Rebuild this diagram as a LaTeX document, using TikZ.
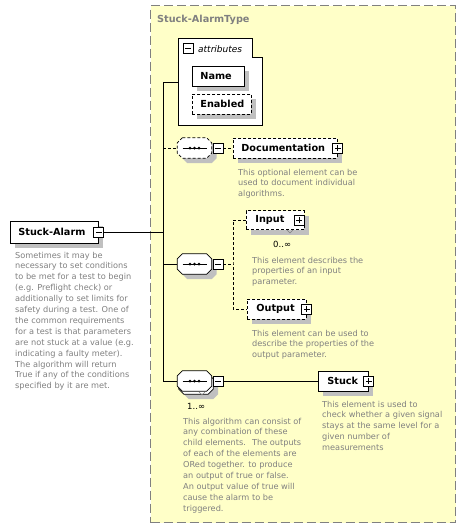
\documentclass[tikz,border=0pt]{standalone}
\usepackage{fontspec}
\setmainfont{DejaVu Sans}
\usetikzlibrary{shadows}
\definecolor{typefill}{RGB}{255,255,200}
\definecolor{typeborder}{RGB}{128,128,128}
\definecolor{desccol}{RGB}{128,128,128}
\definecolor{shadowgray}{RGB}{192,192,192}
\newcommand\elemfont{\fontsize{9.7}{11}\selectfont\bfseries}
\newcommand\descfont{\fontsize{8.2}{10.9}\selectfont}
\newcommand\occfont{\fontsize{8.5}{10}\selectfont}
\tikzset{
  conn/.style={line width=0.8pt, black},
  optconn/.style={conn, dash pattern=on 3pt off 2pt},
  shad/.style={drop shadow={shadow xshift=5pt, shadow yshift=-5pt, fill=shadowgray, opacity=1}},
  elem/.style={draw, fill=white, line width=0.8pt, font=\elemfont, anchor=west,
    inner xsep=8pt, inner ysep=0pt, align=left, minimum height=20pt, shad},
  optelem/.style={elem, dash pattern=on 3pt off 2pt},
  desc/.style={font=\descfont, text=desccol, anchor=base west, align=left, inner sep=0pt},
  occ/.style={font=\occfont, anchor=base west, inner sep=0pt},
  pmbox/.style={draw, solid, fill=white, line width=0.8pt, minimum size=10pt, inner sep=0pt},
  minusbox/.style={pmbox, path picture={\draw[line width=0.8pt, solid]
      ([xshift=2pt]path picture bounding box.west) -- ([xshift=-2pt]path picture bounding box.east);}},
  plusbox/.style={pmbox, path picture={\draw[line width=0.8pt, solid]
      ([xshift=2pt]path picture bounding box.west) -- ([xshift=-2pt]path picture bounding box.east)
      ([yshift=2pt]path picture bounding box.south) -- ([yshift=-2pt]path picture bounding box.north);}},
  seqbox/.style={rectangle, minimum width=34pt, minimum height=20pt, inner sep=0pt},
}
\newcommand\octpath[1]{([xshift=5pt]#1.north west) -- ([xshift=-5pt]#1.north east) -- ([yshift=-5pt]#1.north east) -- ([yshift=5pt]#1.south east) -- ([xshift=-5pt]#1.south east) -- ([xshift=5pt]#1.south west) -- ([yshift=5pt]#1.south west) -- ([yshift=-5pt]#1.north west) -- cycle}
\newcommand\octoutline[2][]{%
  \fill[shadowgray, transform canvas={shift={(5pt,-5pt)}}] \octpath{#2};
  \draw[conn, fill=white, #1] \octpath{#2};}
\newcommand\octsymbol[1]{%
  \draw[conn, solid] ([xshift=-12pt]#1.center) -- ([xshift=12pt]#1.center);
  \foreach \d in {-4.5,0,4.5} \fill ([xshift=\d pt]#1.center) circle (1.5pt);}
\begin{document}
\begin{tikzpicture}[x=1pt, y=-1pt]
\useasboundingbox (0,0) rectangle (466,531);
\fill[white] (0,0) rectangle (466,531);

% complex type box
\node[draw=typeborder, fill=typefill, line width=1.2pt, dash pattern=on 9pt off 4pt,
  anchor=north west, minimum width=305pt, minimum height=517pt, inner sep=0pt] (type) at (150,5) {};
\node[font=\elemfont, text=desccol, anchor=base west, inner sep=0pt] (typetitle) at (157,22) {Stuck-AlarmType};

% attributes
\draw[conn, fill=white] (178,38) -- (252,38) -- (252,57) -- (262,57) -- (262,125) -- (178,125) -- cycle;
\coordinate (attr) at (178,82);
\node[minusbox] (attrmin) at (188,48.5) {};
\node[font=\fontsize{9}{11}\selectfont\itshape, anchor=base west, inner sep=0pt] (attrlbl) at (198,52) {attributes};
\node[elem, text width=36pt] (name) at (192,76) {Name};
\node[optelem, text width=43pt] (enabled) at (192,104) {Enabled};

% root element
\node[elem, text width=72pt, minimum height=22pt] (sa) at (10,232) {Stuck-Alarm};
\node[minusbox] (samin) at (sa.east) {};
\node[desc] (sadesc) at (15,388.8) {Sometimes it may be\\necessary to set conditions\\to be met for a test to begin\\(e.g. Preflight check) or\\additionally to set limits for\\safety during a test. One of\\the common requirements\\for a test is that parameters\\are not stuck at a value (e.g.\\indicating a faulty meter).\\The algorithm will return\\True if any of the conditions\\specified by it are met.};

% optional sequence - Documentation
\node[seqbox] (optseq) at (194.5,148) {};
\octoutline[dash pattern=on 3pt off 2pt]{optseq}
\octsymbol{optseq}
\node[minusbox] (optmin) at (218,148) {};
\node[optelem, text width=88pt] (doc) at (233,148) {Documentation};
\node[plusbox] (docplus) at (doc.east) {};
\node[desc] (docdesc) at (238,196.8) {This optional element can be\\used to document individual\\algorithms.};

% sequence - Input / Output
\node[seqbox] (seq) at (194.5,264) {};
\octoutline{seq}
\octsymbol{seq}
\node[minusbox] (seqmin) at (218,264) {};
\coordinate (fork) at (233,264);
\node[optelem, text width=40pt, inner xsep=9pt, minimum height=19pt] (input) at (246,220) {Input};
\node[plusbox] (inplus) at (299,220) {};
\draw[line width=0.6pt, gray] (287,230) -- (290,233) -- (293,230);
\node[occ] (inocc) at (273,247) {0..∞};
\node[desc] (indesc) at (252,284.8) {This element describes the\\properties of an input\\parameter.};
\node[optelem, text width=41pt, inner xsep=9pt] (output) at (247,309) {Output};
\node[plusbox] (outplus) at (output.east) {};
\node[desc] (outdesc) at (252,357.8) {This element can be used to\\describe the properties of the\\output parameter.};

% repeated sequence - Stuck
\node[seqbox] (chback) at (196,384) {};
\octoutline{chback}
\node[seqbox] (choice) at (194.5,381) {};
\draw[conn, fill=white] \octpath{choice};
\octsymbol{choice}
\draw[line width=0.6pt, gray] (199,392) -- (202,395) -- (205,392);
\node[minusbox] (chmin) at (218,381) {};
\node[occ] (chocc) at (187,409) {1..∞};
\node[desc] (chdesc) at (183,511.2) {This algorithm can consist of\\any combination of these\\child elements.~ The outputs\\of each of the elements are\\ORed together. to produce\\an output of true or false.\\An output value of true will\\cause the alarm to be\\triggered.};
\node[elem, text width=32pt, inner xsep=9pt] (stuck) at (318,381) {Stuck};
\node[plusbox] (stuckplus) at (stuck.east) {};
\node[desc] (stuckdesc) at (322,450.6) {This element is used to\\check whether a given signal\\stays at the same level for a\\given number of\\measurements};

% connectors
\coordinate (jtop) at (163,82);
\coordinate (jdoc) at (163,148);
\coordinate (jsa) at (163,232);
\coordinate (jseq) at (163,264);
\coordinate (jbot) at (163,381);
\draw[conn] (samin.east) -- (jsa);
\draw[conn] (attr) -- (jtop) -- (jbot) -- (choice.west);
\draw[conn] (jseq) -- (seq.west);
\draw[optconn] (jdoc) -- (optseq.west);
\draw[optconn] (optmin.east) -- (doc.west);
\draw[optconn] (seqmin.east) -- (fork);
\draw[optconn] (input.west) -| (fork) |- (output.west);
\draw[conn] (chmin.east) -- (stuck.west);
\end{tikzpicture}
\end{document}
